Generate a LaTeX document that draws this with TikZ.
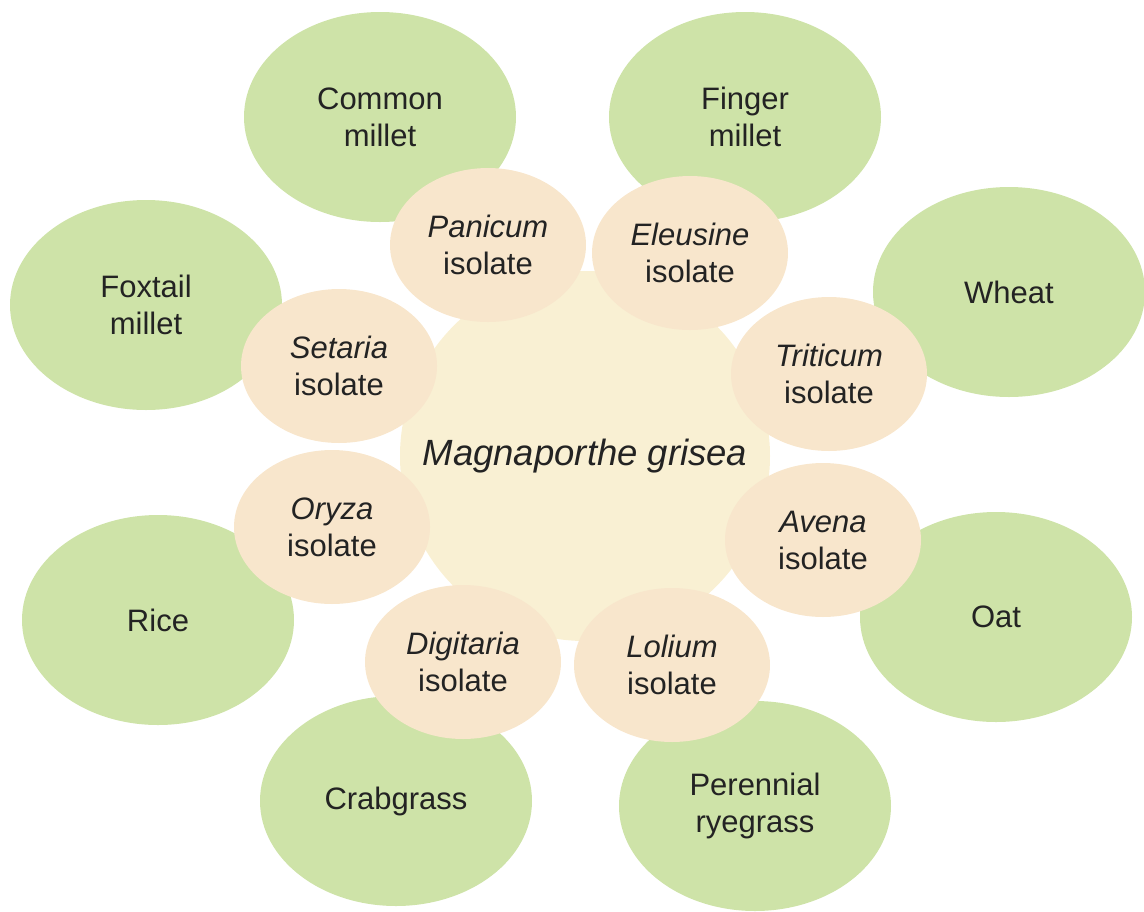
\documentclass[tikz,border=0pt]{standalone}
\usepackage{fontspec}
\setmainfont{Liberation Sans}
\usetikzlibrary{shapes.geometric}

\definecolor{hostgreen}{RGB}{206,227,168}
\definecolor{isolatepeach}{RGB}{248,230,204}
\definecolor{fungusyellow}{RGB}{249,240,211}
\definecolor{labelgray}{RGB}{35,35,35}

\tikzset{
  host/.style={ellipse,fill=hostgreen,minimum width=272pt,minimum height=210pt,
    inner sep=0pt,align=center,text=labelgray,font=\fontsize{31}{37}\selectfont},
  isolate/.style={ellipse,fill=isolatepeach,minimum width=196pt,minimum height=154pt,
    inner sep=0pt,align=center,text=labelgray,font=\fontsize{31}{37}\selectfont},
  fungus/.style={circle,fill=fungusyellow,minimum size=370pt,inner sep=0pt,
    text=labelgray,font=\fontsize{36.5}{42}\selectfont\itshape}
}

\begin{document}
\begin{tikzpicture}[x=1pt,y=-1pt]

\useasboundingbox (0,0) rectangle (1144,911);

% host plants
\node[host] (common)    at (380,117) {Common\\millet};
\node[host] (finger)    at (745,117) {Finger\\millet};
\node[host] (wheat)     at (1009,292) {Wheat};
\node[host] (oat)       at (996,617) {Oat};
\node[host] (ryegrass)  at (755,806) {Perennial\\ryegrass};
\node[host] (crabgrass) at (396,801) {Crabgrass};
\node[host] (rice)      at (158,620) {Rice};
\node[host] (foxtail)   at (146,305) {Foxtail\\millet};

% fungus
\node[fungus] (grisea) at (585,456) {Magnaporthe grisea};

% isolates
\node[isolate] (panicum)   at (488,245) {\textit{Panicum}\\isolate};
\node[isolate] (eleusine)  at (690,253) {\textit{Eleusine}\\isolate};
\node[isolate] (triticum)  at (829,374) {\textit{Triticum}\\isolate};
\node[isolate] (avena)     at (823,540) {\textit{Avena}\\isolate};
\node[isolate] (lolium)    at (672,665) {\textit{Lolium}\\isolate};
\node[isolate] (digitaria) at (463,662) {\textit{Digitaria}\\isolate};
\node[isolate] (oryza)     at (332,527) {\textit{Oryza}\\isolate};
\node[isolate] (setaria)   at (339,366) {\textit{Setaria}\\isolate};

\end{tikzpicture}
\end{document}
